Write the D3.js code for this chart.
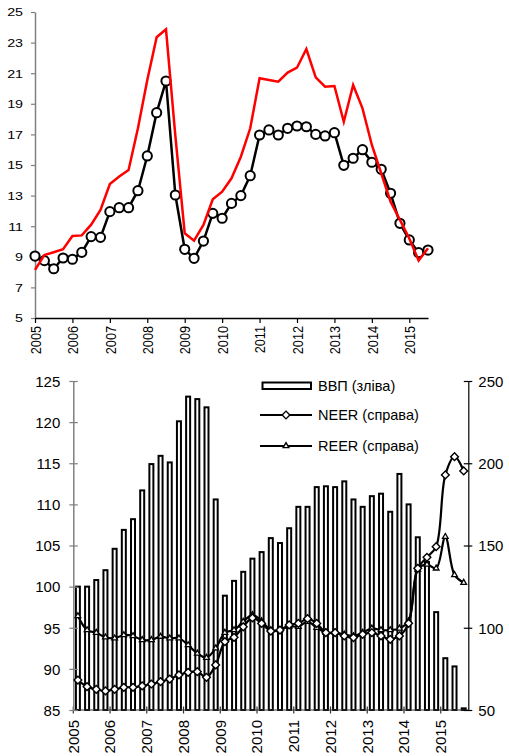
<!DOCTYPE html>
<html>
<head>
<meta charset="utf-8">
<style>
body { margin: 0; padding: 0; background: white; overflow: hidden; }
text { font-family: "Liberation Sans", Arial, sans-serif; fill: #000; }
</style>
</head>
<body>
<script src="https://d3js.org/d3.v7.min.js"></script>
<script>
// quarters 2005Q1 .. 2015Q3
var years = [2005, 2006, 2007, 2008, 2009, 2010, 2011, 2012, 2013, 2014, 2015];
var quarters = years.flatMap(function(y) { return ["Q1", "Q2", "Q3", "Q4"].map(function(q) { return y + q; }); }).slice(0, 43);

// top chart (left scale 5-25)
var topYTicks = [5, 7, 9, 11, 13, 15, 17, 19, 21, 23, 25];
var seriesBlack = [9.05, 8.75, 8.22, 8.92, 8.84, 9.29, 10.32, 10.27, 11.95, 12.21, 12.21, 13.32,
    15.59, 18.42, 20.49, 13.04, 9.49, 8.9, 10.03, 11.84, 11.52, 12.49, 13.0, 14.3,
    16.96, 17.29, 16.96, 17.4, 17.55, 17.5, 17.0, 16.9, 17.11, 14.98, 15.44, 16.0,
    15.18, 14.72, 13.15, 11.19, 10.1, 9.27, 9.44];
var seriesRed = [8.14, 9.12, 9.3, 9.49, 10.36, 10.4, 11.1, 12.06, 13.76, 14.25, 14.67, 17.4,
    20.56, 23.35, 23.87, 16.9, 10.54, 10.05, 11.08, 12.76, 13.26, 14.13, 15.54, 17.4,
    20.67, 20.56, 20.45, 21.04, 21.36, 22.58, 20.73, 20.12, 20.16, 17.83, 20.23, 18.7,
    16.31, 14.46, 12.6, 11.41, 10.2, 8.75, 9.56];

// bottom chart
var leftTicks = [85, 90, 95, 100, 105, 110, 115, 120, 125];
var rightTicks = [50, 100, 150, 200, 250];
var gdp = [100.0, 100.0, 100.8, 102.0, 104.6, 106.9, 108.2, 111.7, 114.9, 115.9, 115.1, 120.1,
    123.1, 122.8, 121.8, 110.6, 98.9, 100.7, 101.8, 103.4, 104.2, 105.9, 105.3, 107.1,
    109.7, 109.7, 112.1, 112.2, 112.1, 112.8, 110.6, 109.7, 111.0, 111.3, 109.1, 113.7,
    110.0, 106.0, 103.0, 96.9, 91.3, 90.3, 85.2];
var neer = [68.2, 64.2, 62.6, 61.6, 62.6, 63.8, 63.8, 64.6, 65.8, 67.2, 68.8, 71.3,
    72.9, 73.3, 69.9, 77.4, 91.5, 94.2, 100.6, 106.0, 102.6, 98.0, 98.6, 101.7,
    102.6, 105.5, 102.6, 97.0, 97.0, 95.0, 94.0, 96.0, 97.0, 95.0, 93.0, 95.0,
    102.7, 136.1, 142.8, 149.3, 192.9, 204.0, 195.3];
var reer = [107.1, 98.6, 97.0, 94.2, 93.6, 95.6, 95.0, 92.6, 92.6, 94.6, 93.6, 93.6,
    89.5, 84.4, 81.8, 87.5, 97.0, 98.6, 103.7, 107.8, 104.0, 98.6, 98.6, 101.0,
    100.6, 103.7, 100.0, 97.0, 97.0, 96.0, 95.0, 97.0, 99.6, 98.6, 98.6, 99.6,
    104.0, 135.5, 138.5, 136.1, 155.3, 132.1, 127.4];
var legendLabels = ["ВВП (зліва)", "NEER (справа)", "REER (справа)"];

var yearStarts = quarters.filter(function(q) { return q.slice(4) == "Q1"; });

var svg = d3.select("body").append("svg")
    .attr("width", 509)
    .attr("height", 756);

// ---------- top chart ----------
var xT = d3.scalePoint().domain(quarters).range([35, 428]);
var yT = d3.scaleLinear().domain([5, 25]).range([318, 12]);

var topG = svg.append("g");

var yAxisT = topG.append("g")
    .attr("transform", "translate(35,0)")
    .call(d3.axisLeft(yT).tickValues(topYTicks).tickSize(4).tickSizeOuter(0));
yAxisT.select(".domain").attr("stroke", "#808080").attr("stroke-width", 1.5);
yAxisT.selectAll(".tick line").attr("stroke", "#808080").attr("stroke-width", 1.2);
yAxisT.selectAll(".tick text")
    .attr("x", -9.2)
    .attr("dy", "0.35em")
    .attr("transform", "scale(1.3,1)")
    .style("font-size", "11px")
    .style("font-family", "'Liberation Sans', Arial, sans-serif")
    .attr("fill", "#000");

var xAxisT = topG.append("g")
    .attr("transform", "translate(0,318)")
    .call(d3.axisBottom(xT).tickValues(yearStarts).tickFormat(function(q) { return q.slice(0, 4); }).tickSize(5).tickSizeOuter(0));
xAxisT.select(".domain").attr("stroke", "#000").attr("stroke-width", 1.5);
xAxisT.selectAll(".tick line").attr("stroke", "#000").attr("stroke-width", 1.2);
xAxisT.selectAll(".tick text")
    .attr("x", -8)
    .attr("y", 0)
    .attr("dy", "0.35em")
    .attr("transform", "rotate(-90) scale(1,1.18)")
    .style("text-anchor", "end")
    .style("font-size", "12.7px")
    .style("font-family", "'Liberation Sans', Arial, sans-serif")
    .attr("fill", "#000");

var lineT = d3.line()
    .x(function(d, i) { return xT(quarters[i]); })
    .y(function(d) { return yT(d); });

topG.append("path")
    .datum(seriesBlack)
    .attr("d", lineT)
    .attr("fill", "none")
    .attr("stroke", "#000")
    .attr("stroke-width", 2.5);

topG.selectAll(".dot")
    .data(seriesBlack)
    .enter().append("circle")
    .attr("class", "dot")
    .attr("cx", function(d, i) { return xT(quarters[i]); })
    .attr("cy", function(d) { return yT(d); })
    .attr("r", 4.6)
    .attr("fill", "white")
    .attr("stroke", "#000")
    .attr("stroke-width", 2);

topG.append("path")
    .datum(seriesRed)
    .attr("d", lineT)
    .attr("fill", "none")
    .attr("stroke", "#ff0000")
    .attr("stroke-width", 2.5);

// ---------- bottom chart ----------
var xB = d3.scaleBand().domain(quarters).range([73.3, 468.3]);
var yL = d3.scaleLinear().domain([85, 125]).range([710, 381]);
var yR = d3.scaleLinear().domain([50, 250]).range([710, 381]);
var bw = xB.bandwidth();
var cx = function(i) { return xB(quarters[i]) + bw / 2; };

var bot = svg.append("g");

bot.selectAll(".bar")
    .data(gdp)
    .enter().append("rect")
    .attr("class", "bar")
    .attr("x", function(d, i) { return cx(i) - 2; })
    .attr("y", function(d) { return yL(d); })
    .attr("width", 4)
    .attr("height", function(d) { return yL(85) - yL(d); })
    .attr("fill", "white")
    .attr("stroke", "#000")
    .attr("stroke-width", 2);

// x axis (ticks between categories)
bot.append("line")
    .attr("x1", 73.3).attr("x2", 468.3)
    .attr("y1", 710).attr("y2", 710)
    .attr("stroke", "#333").attr("stroke-width", 1.2);
bot.selectAll(".xtick")
    .data(yearStarts)
    .enter().append("line")
    .attr("x1", function(q) { return xB(q); })
    .attr("x2", function(q) { return xB(q); })
    .attr("y1", 706.5).attr("y2", 713.5)
    .attr("stroke", "#333").attr("stroke-width", 1.2);
bot.selectAll(".xlab")
    .data(yearStarts)
    .enter().append("text")
    .attr("transform", function(q) { return "translate(" + xB(q) + ",720) rotate(-90)"; })
    .attr("dy", "0.35em")
    .style("text-anchor", "end")
    .style("font-size", "15px")
    .text(function(q) { return q.slice(0, 4); });

var yAxisL = bot.append("g")
    .attr("transform", "translate(73.3,0)")
    .call(d3.axisLeft(yL).tickValues(leftTicks).tickSize(4).tickSizeOuter(0));
yAxisL.select(".domain").attr("stroke", "#808080").attr("stroke-width", 1.5);
yAxisL.selectAll(".tick line").attr("x1", 4.5).attr("x2", -4).attr("stroke", "#808080").attr("stroke-width", 1.2);
yAxisL.selectAll(".tick text")
    .attr("x", -13)
    .attr("dy", "0.35em")
    .style("font-size", "15px")
    .style("font-family", "'Liberation Sans', Arial, sans-serif")
    .attr("fill", "#000");

var yAxisR = bot.append("g")
    .attr("transform", "translate(468.3,0)")
    .call(d3.axisRight(yR).tickValues(rightTicks).tickSize(4).tickSizeOuter(0));
yAxisR.select(".domain").attr("stroke", "#000").attr("stroke-width", 1.2);
yAxisR.selectAll(".tick line").attr("x1", -4.5).attr("x2", 4).attr("stroke", "#000").attr("stroke-width", 1.2);
yAxisR.selectAll(".tick text")
    .attr("x", 10)
    .attr("dy", "0.35em")
    .style("font-size", "15px")
    .style("font-family", "'Liberation Sans', Arial, sans-serif")
    .attr("fill", "#000");

var lineB = d3.line()
    .x(function(d, i) { return cx(i); })
    .y(function(d) { return yR(d); })
    .curve(d3.curveCatmullRom);

bot.append("path")
    .datum(reer)
    .attr("d", lineB)
    .attr("fill", "none")
    .attr("stroke", "#000")
    .attr("stroke-width", 2.2);

bot.append("path")
    .datum(neer)
    .attr("d", lineB)
    .attr("fill", "none")
    .attr("stroke", "#000")
    .attr("stroke-width", 2.2);

var tri = d3.symbol().type(d3.symbolTriangle).size(14);
var dia = d3.symbol().type(d3.symbolSquare).size(30);

bot.selectAll(".tri")
    .data(reer)
    .enter().append("path")
    .attr("class", "tri")
    .attr("d", tri)
    .attr("transform", function(d, i) { return "translate(" + cx(i) + "," + yR(d) + ")"; })
    .attr("fill", "white")
    .attr("stroke", "#000")
    .attr("stroke-width", 1.3);

bot.selectAll(".dia")
    .data(neer)
    .enter().append("path")
    .attr("class", "dia")
    .attr("d", dia)
    .attr("transform", function(d, i) { return "translate(" + cx(i) + "," + yR(d) + ") rotate(45)"; })
    .attr("fill", "white")
    .attr("stroke", "#000")
    .attr("stroke-width", 1.4);

// legend
var legend = bot.append("g");
legend.append("rect")
    .attr("x", 262.5).attr("y", 382.5)
    .attr("width", 48.5).attr("height", 6.5)
    .attr("fill", "white").attr("stroke", "#000").attr("stroke-width", 2);
[415, 446].forEach(function(y, k) {
    legend.append("line")
        .attr("x1", 260).attr("x2", 312)
        .attr("y1", y).attr("y2", y)
        .attr("stroke", "#000").attr("stroke-width", 2.2);
    legend.append("path")
        .attr("d", k == 0 ? dia : tri)
        .attr("transform", "translate(286," + y + ")" + (k == 0 ? " rotate(45)" : ""))
        .attr("fill", "white").attr("stroke", "#000").attr("stroke-width", 1.4);
});
legend.selectAll(".ltext")
    .data(legendLabels)
    .enter().append("text")
    .attr("x", 318)
    .attr("y", function(d, i) { return [385.5, 415, 446][i]; })
    .attr("dy", "0.35em")
    .style("font-size", "14.5px")
    .text(function(d) { return d; });
</script>
</body>
</html>
